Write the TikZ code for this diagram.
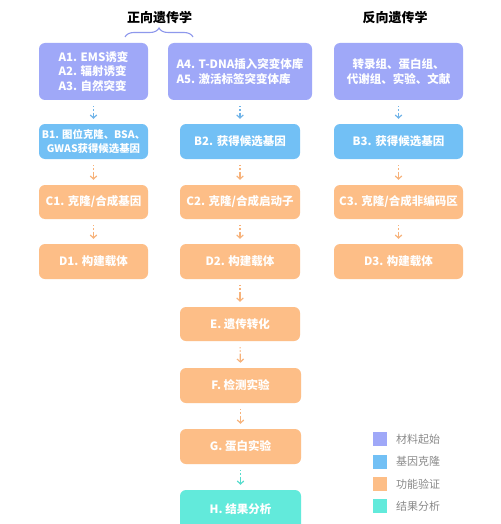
\documentclass[tikz,border=0pt]{standalone}
\usepackage{fontspec}
\setmainfont{Noto Sans CJK SC}
\usetikzlibrary{arrows.meta,decorations.pathreplacing}
\definecolor{cpurple}{HTML}{9FA8F8}
\definecolor{cblue}{HTML}{72C0F5}
\definecolor{corange}{HTML}{FDBE87}
\definecolor{cteal}{HTML}{62EADB}
\definecolor{ablue}{HTML}{6FB3E8}
\definecolor{aorange}{HTML}{F7B27A}
\definecolor{ateal}{HTML}{55DCCD}
\definecolor{legtext}{HTML}{8A8A8A}
\definecolor{bracec}{HTML}{8E98EC}
\tikzset{
  box/.style={rounded corners=6pt, inner sep=0pt, text=white, font=\fontsize{11.5}{14.5}\selectfont\bfseries, align=center},
  purplebox/.style={box, fill=cpurple},
  bluebox/.style={box, fill=cblue},
  orangebox/.style={box, fill=corange},
  tealbox/.style={box, fill=cteal},
  flowarrow/.style={line width=1.2pt, dash pattern=on 1.2pt off 2pt on 1.2pt off 2pt on 20pt off 0pt, -{Straight Barb[length=3pt,width=6.5pt]}, shorten <=6pt, shorten >=5pt},
  title/.style={font=\fontsize{13}{15}\selectfont\bfseries, text=black},
  legsq/.style={minimum size=14pt, inner sep=0pt},
  legtxt/.style={font=\fontsize{11}{13}\selectfont, text=legtext, anchor=west, inner sep=0pt}
}
\begin{document}
\begin{tikzpicture}[x=1pt,y=-1pt]
\fill[white] (0,0) rectangle (500,524);
\useasboundingbox (0,0) rectangle (500,524);
% titles
\node[title] (t1) at (159.5,18) {正向遗传学};
\node[title] (t2) at (395,18) {反向遗传学};
\coordinate (brl) at (125,37);
\coordinate (brr) at (193,37);
\draw[bracec, line width=1.1pt, decorate, decoration={brace, amplitude=9pt}] (brl) -- (brr);
% row A
\node[purplebox, minimum width=109pt, minimum height=57pt, align=left] (a1) at (93.5,71.5) {A1. EMS诱变\\A2. 辐射诱变\\A3. 自然突变};
\node[purplebox, minimum width=144pt, minimum height=57pt, align=left] (a2) at (240,71.5) {A4. T-DNA插入突变体库\\A5. 激活标签突变体库};
\node[purplebox, minimum width=129pt, minimum height=57pt] (a3) at (398.5,71.5) {转录组、蛋白组、\\代谢组、实验、文献};
% row B
\node[bluebox, minimum width=109pt, minimum height=35pt, font=\fontsize{10.4}{13.2}\selectfont\bfseries] (b1) at (93.5,141.5) {B1. 图位克隆、BSA、\\GWAS获得候选基因};
\node[bluebox, minimum width=120pt, minimum height=35pt] (b2) at (240,141.5) {B2. 获得候选基因};
\node[bluebox, minimum width=129pt, minimum height=35pt] (b3) at (398.5,141.5) {B3. 获得候选基因};
% row C
\node[orangebox, minimum width=109pt, minimum height=34pt] (c1) at (93.5,202) {C1. 克隆/合成基因};
\node[orangebox, minimum width=120pt, minimum height=34pt] (c2) at (240,202) {C2. 克隆/合成启动子};
\node[orangebox, minimum width=129pt, minimum height=34pt] (c3) at (398.5,202) {C3. 克隆/合成非编码区};
% row D
\node[orangebox, minimum width=109pt, minimum height=35pt] (d1) at (93.5,261.5) {D1. 构建载体};
\node[orangebox, minimum width=120pt, minimum height=35pt] (d2) at (240,261.5) {D2. 构建载体};
\node[orangebox, minimum width=129pt, minimum height=35pt] (d3) at (398.5,261.5) {D3. 构建载体};
% column 2 continued
\node[orangebox, minimum width=120pt, minimum height=34pt] (e) at (240,324) {E. 遗传转化};
\node[orangebox, minimum width=121pt, minimum height=35pt] (f) at (240.5,385.5) {F. 检测实验};
\node[orangebox, minimum width=121pt, minimum height=35pt] (g) at (240.5,446.5) {G. 蛋白实验};
\node[tealbox, minimum width=121pt, minimum height=40pt, text depth=0pt] (h) at (240.5,510) {\raisebox{3pt}{H. 结果分析}};
% arrows
\draw[flowarrow, ablue] (a1.south) -- (b1.north);
\draw[flowarrow, ablue] (a2.south) -- (b2.north);
\draw[flowarrow, ablue] (a3.south) -- (b3.north);
\draw[flowarrow, aorange] (b1.south) -- (c1.north);
\draw[flowarrow, aorange] (b2.south) -- (c2.north);
\draw[flowarrow, aorange] (b3.south) -- (c3.north);
\draw[flowarrow, aorange] (c1.south) -- (d1.north);
\draw[flowarrow, aorange] (c2.south) -- (d2.north);
\draw[flowarrow, aorange] (c3.south) -- (d3.north);
\draw[flowarrow, aorange] (d2.south) -- (e.north);
\draw[flowarrow, aorange] (e.south) -- (f.north);
\draw[flowarrow, aorange] (f.south) -- (g.north);
\draw[flowarrow, ateal] (g.south) -- (h.north);
% legend
\node[legsq, fill=cpurple] (l1) at (380,439) {};
\node[legsq, fill=cblue] (l2) at (380,461.5) {};
\node[legsq, fill=corange] (l3) at (380,484) {};
\node[legsq, fill=cteal] (l4) at (380,506) {};
\node[legtxt] (lt1) at (396,439) {材料起始};
\node[legtxt] (lt2) at (396,461.5) {基因克隆};
\node[legtxt] (lt3) at (396,484) {功能验证};
\node[legtxt] (lt4) at (396,506) {结果分析};
\end{tikzpicture}
\end{document}
